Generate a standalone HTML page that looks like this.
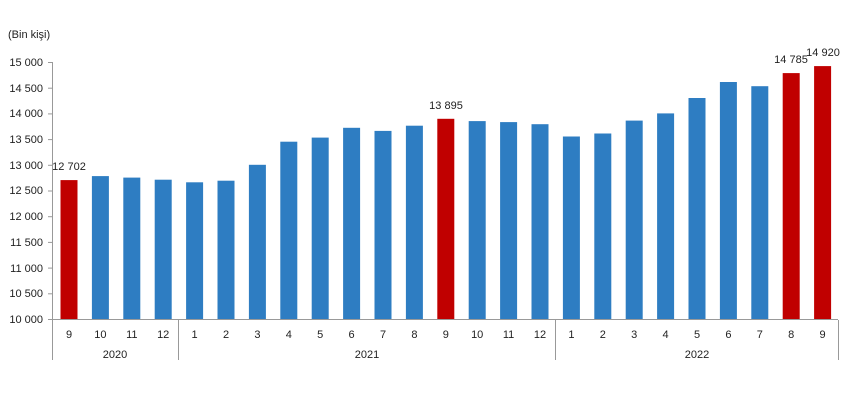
<!DOCTYPE html>
<html><head><meta charset="utf-8"><style>
html,body{margin:0;padding:0;background:#fff;}
svg{display:block;font-family:"Liberation Sans",Arial,sans-serif;}
</style></head><body>
<svg width="850" height="400" viewBox="0 0 850 400" xmlns="http://www.w3.org/2000/svg">
<text x="8" y="38" font-size="11" fill="#222">(Bin kişi)</text>
<g font-size="11" fill="#222" text-anchor="end">
<text x="43" y="66">15 000</text>
<text x="43" y="92">14 500</text>
<text x="43" y="117">14 000</text>
<text x="43" y="143">13 500</text>
<text x="43" y="169">13 000</text>
<text x="43" y="194">12 500</text>
<text x="43" y="220">12 000</text>
<text x="43" y="246">11 500</text>
<text x="43" y="272">11 000</text>
<text x="43" y="297">10 500</text>
<text x="43" y="323">10 000</text>
</g>
<g stroke="#999" stroke-width="1">
<line x1="52.5" y1="62" x2="52.5" y2="360"/>
<line x1="48" y1="62.5" x2="52" y2="62.5"/>
<line x1="48" y1="88.2" x2="52" y2="88.2"/>
<line x1="48" y1="113.9" x2="52" y2="113.9"/>
<line x1="48" y1="139.6" x2="52" y2="139.6"/>
<line x1="48" y1="165.3" x2="52" y2="165.3"/>
<line x1="48" y1="191" x2="52" y2="191"/>
<line x1="48" y1="216.7" x2="52" y2="216.7"/>
<line x1="48" y1="242.4" x2="52" y2="242.4"/>
<line x1="48" y1="268.1" x2="52" y2="268.1"/>
<line x1="48" y1="293.8" x2="52" y2="293.8"/>
<line x1="48" y1="319.5" x2="838" y2="319.5"/>
<line x1="178.5" y1="320" x2="178.5" y2="360"/>
<line x1="555.5" y1="320" x2="555.5" y2="360"/>
<line x1="838.5" y1="320" x2="838.5" y2="360"/>
</g>
<g fill="#2e7dc2">
<rect x="91.9" y="176.1" width="17" height="142.9"/>
<rect x="123.3" y="177.6" width="17" height="141.4"/>
<rect x="154.7" y="179.7" width="17" height="139.3"/>
<rect x="186.1" y="182.3" width="17" height="136.7"/>
<rect x="217.5" y="180.7" width="17" height="138.3"/>
<rect x="248.9" y="164.8" width="17" height="154.2"/>
<rect x="280.3" y="141.7" width="17" height="177.3"/>
<rect x="311.7" y="137.6" width="17" height="181.4"/>
<rect x="343.1" y="127.8" width="17" height="191.2"/>
<rect x="374.5" y="130.9" width="17" height="188.1"/>
<rect x="405.9" y="125.7" width="17" height="193.3"/>
<rect x="468.7" y="121.1" width="17" height="197.9"/>
<rect x="500.1" y="122.1" width="17" height="196.9"/>
<rect x="531.5" y="124.2" width="17" height="194.8"/>
<rect x="562.9" y="136.5" width="17" height="182.5"/>
<rect x="594.3" y="133.5" width="17" height="185.5"/>
<rect x="625.7" y="120.6" width="17" height="198.4"/>
<rect x="657.1" y="113.4" width="17" height="205.6"/>
<rect x="688.5" y="98" width="17" height="221"/>
<rect x="719.9" y="82" width="17" height="237"/>
<rect x="751.3" y="86.2" width="17" height="232.8"/>
</g>
<g fill="#c00000">
<rect x="60.5" y="180.1" width="17" height="138.9"/>
<rect x="437.3" y="118.8" width="17" height="200.2"/>
<rect x="782.7" y="73.1" width="17" height="245.9"/>
<rect x="814.1" y="66.1" width="17" height="252.9"/>
</g>
<g font-size="11" fill="#222" text-anchor="middle">
<text x="69" y="170">12 702</text>
<text x="446" y="109">13 895</text>
<text x="791" y="63">14 785</text>
<text x="823" y="56">14 920</text>
</g>
<g font-size="11" fill="#222" text-anchor="middle">
<text x="69" y="338">9</text><text x="100.4" y="338">10</text><text x="131.8" y="338">11</text><text x="163.2" y="338">12</text>
<text x="194.6" y="338">1</text><text x="226" y="338">2</text><text x="257.4" y="338">3</text><text x="288.8" y="338">4</text>
<text x="320.2" y="338">5</text><text x="351.6" y="338">6</text><text x="383" y="338">7</text><text x="414.4" y="338">8</text>
<text x="445.8" y="338">9</text><text x="477.2" y="338">10</text><text x="508.6" y="338">11</text><text x="540" y="338">12</text>
<text x="571.4" y="338">1</text><text x="602.8" y="338">2</text><text x="634.2" y="338">3</text><text x="665.6" y="338">4</text>
<text x="697" y="338">5</text><text x="728.4" y="338">6</text><text x="759.8" y="338">7</text><text x="791.2" y="338">8</text>
<text x="822.6" y="338">9</text>
<text x="115" y="358">2020</text>
<text x="367" y="358">2021</text>
<text x="697" y="358">2022</text>
</g>
</svg>
</body></html>
